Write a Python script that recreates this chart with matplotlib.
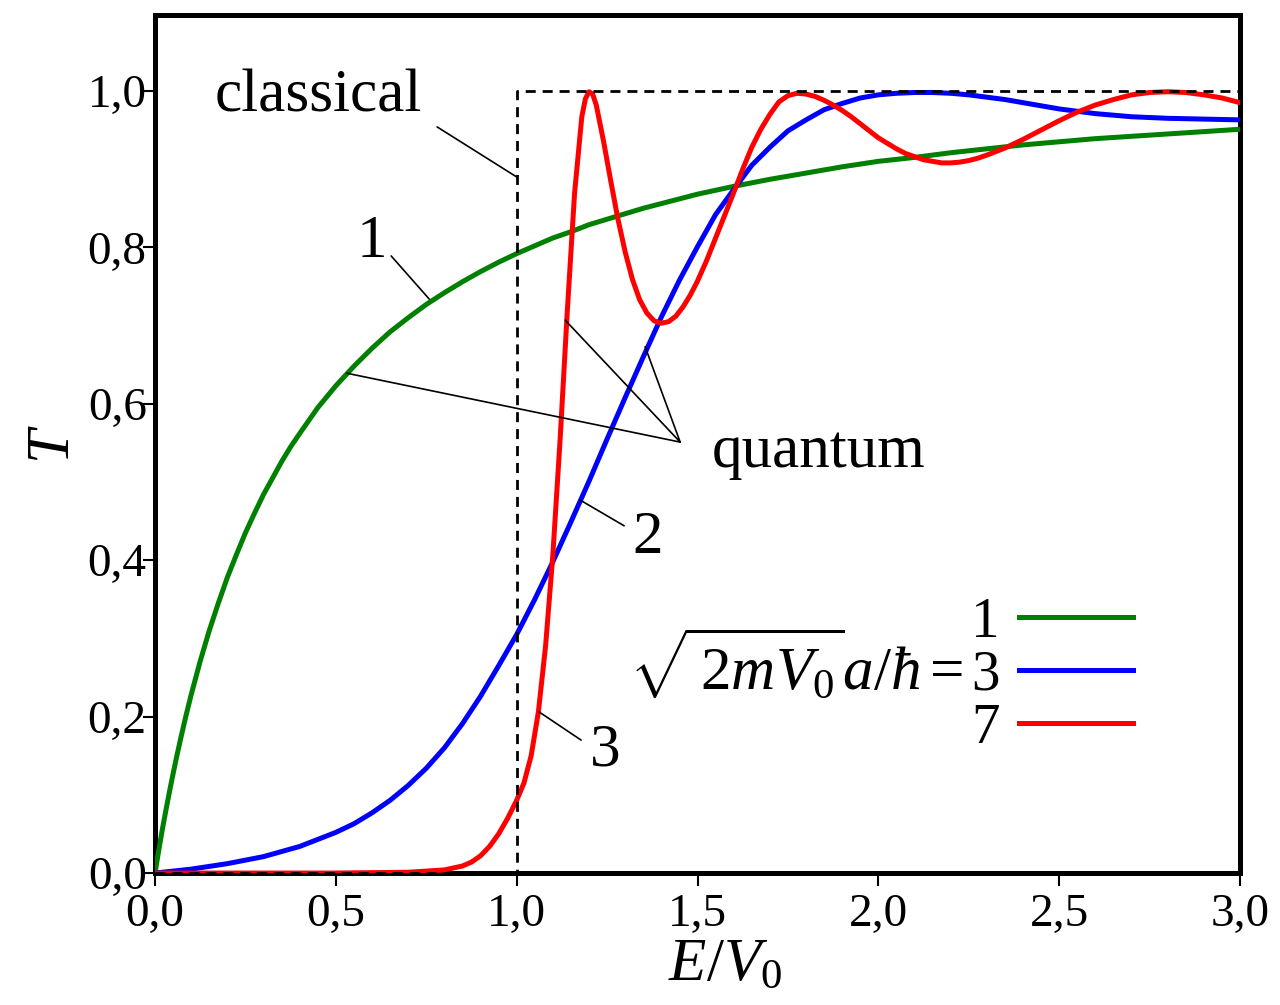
import matplotlib
matplotlib.use("Agg")
import matplotlib.pyplot as plt

plt.rcParams['font.family'] = ['Liberation Serif', 'DejaVu Serif']
plt.rcParams['mathtext.fontset'] = 'custom'
plt.rcParams['mathtext.rm'] = 'Liberation Serif'
plt.rcParams['mathtext.it'] = 'Liberation Serif:italic'

# transmission T vs E/V0
green_E = [0, 0.01, 0.02, 0.03, 0.04, 0.05, 0.06, 0.07, 0.085, 0.1, 0.125, 0.15, 0.175,
           0.2, 0.225, 0.25, 0.275, 0.3, 0.325, 0.35, 0.375, 0.4, 0.45, 0.5, 0.55, 0.6,
           0.65, 0.7, 0.75, 0.8, 0.85, 0.9, 0.95, 1.0, 1.05, 1.1, 1.15, 1.2, 1.25, 1.3,
           1.35, 1.4, 1.45, 1.5, 1.6, 1.7, 1.8, 1.9, 2.0, 2.1, 2.2, 2.4, 2.6, 2.8, 3.0]
green_T = [0, 0.028, 0.055, 0.080, 0.104, 0.127, 0.149, 0.170, 0.200, 0.228, 0.271, 0.310,
           0.345, 0.378, 0.407, 0.435, 0.460, 0.484, 0.505, 0.526, 0.545, 0.562, 0.595,
           0.623, 0.648, 0.671, 0.692, 0.710, 0.727, 0.742, 0.756, 0.769, 0.781, 0.792,
           0.802, 0.812, 0.820, 0.829, 0.836, 0.843, 0.850, 0.856, 0.862, 0.868, 0.878,
           0.887, 0.895, 0.903, 0.910, 0.915, 0.921, 0.931, 0.939, 0.945, 0.951]

blue_E = [0, 0.1, 0.2, 0.3, 0.4, 0.5, 0.55, 0.6, 0.65, 0.7, 0.75, 0.8, 0.85, 0.9, 0.95,
          1.0, 1.05, 1.1, 1.15, 1.2, 1.25, 1.3, 1.35, 1.4, 1.45, 1.5, 1.55, 1.6, 1.65,
          1.7, 1.75, 1.8, 1.85, 1.9, 1.95, 2.0, 2.05, 2.1, 2.15, 2.2, 2.25, 2.3, 2.35,
          2.4, 2.45, 2.5, 2.55, 2.6, 2.7, 2.8, 2.9, 3.0]
blue_T = [0, 0.005, 0.012, 0.021, 0.034, 0.052, 0.063, 0.077, 0.093, 0.112, 0.134, 0.160,
          0.191, 0.226, 0.265, 0.305, 0.350, 0.398, 0.449, 0.501, 0.555, 0.608, 0.660,
          0.711, 0.758, 0.801, 0.842, 0.874, 0.905, 0.928, 0.949, 0.963, 0.976, 0.984,
          0.991, 0.995, 0.997, 0.998, 0.998, 0.997, 0.995, 0.992, 0.989, 0.985, 0.981,
          0.977, 0.974, 0.971, 0.967, 0.965, 0.964, 0.963]

red_E = [0, 0.5, 0.7, 0.8, 0.85, 0.875, 0.9, 0.925, 0.95, 0.975, 1.0, 1.02, 1.04, 1.06,
         1.08, 1.10, 1.12, 1.14, 1.16, 1.18, 1.19, 1.20, 1.21, 1.22, 1.24, 1.26, 1.28,
         1.30, 1.32, 1.34, 1.36, 1.38, 1.40, 1.42, 1.44, 1.46, 1.48, 1.50, 1.525, 1.55,
         1.575, 1.60, 1.625, 1.65, 1.675, 1.70, 1.725, 1.75, 1.775, 1.80, 1.825, 1.85,
         1.875, 1.90, 1.925, 1.95, 1.975, 2.0, 2.025, 2.05, 2.075, 2.10, 2.125, 2.15,
         2.175, 2.20, 2.225, 2.25, 2.275, 2.30, 2.35, 2.40, 2.45, 2.50, 2.55, 2.60, 2.65,
         2.70, 2.75, 2.80, 2.85, 2.90, 2.95, 3.0]
red_T = [0, 0, 0.001, 0.004, 0.009, 0.014, 0.022, 0.034, 0.050, 0.070, 0.093, 0.115, 0.150,
         0.206, 0.291, 0.407, 0.554, 0.719, 0.869, 0.967, 0.990, 0.999, 0.996, 0.982,
         0.936, 0.885, 0.836, 0.794, 0.759, 0.733, 0.716, 0.706, 0.703, 0.705, 0.712,
         0.724, 0.739, 0.757, 0.783, 0.812, 0.841, 0.870, 0.900, 0.928, 0.951, 0.970,
         0.986, 0.994, 0.997, 0.996, 0.993, 0.988, 0.982, 0.975, 0.967, 0.958, 0.949,
         0.940, 0.933, 0.926, 0.920, 0.916, 0.912, 0.910, 0.908, 0.908, 0.909, 0.911,
         0.914, 0.918, 0.927, 0.938, 0.950, 0.962, 0.973, 0.982, 0.989, 0.995, 0.998,
         0.999, 0.998, 0.995, 0.991, 0.985]

classical_E = [0, 1, 1, 3]
classical_T = [0, 0, 1, 1]

params = ['1', '3', '7']
xticks = [0, 0.5, 1.0, 1.5, 2.0, 2.5, 3.0]
yticks = [0, 0.2, 0.4, 0.6, 0.8, 1.0]

fig = plt.figure(figsize=(12.8, 10.05), dpi=100)
ax = fig.add_axes([0.1211, 0.1313, 0.8477, 0.8537])

lw = 3.6
l1, = ax.plot(green_E, green_T, color='#008000', lw=lw, label=params[0], zorder=3)
l3, = ax.plot(blue_E, blue_T, color='#0000ff', lw=lw, label=params[1], zorder=3)
l7, = ax.plot(red_E, red_T, color='#ff0000', lw=lw, label=params[2], zorder=3)
ax.plot(classical_E, classical_T, color='black', lw=2, dashes=(3.6, 2.5), zorder=4)

ax.set_xlim(0, 3)
ax.set_ylim(0, 1.097)
ax.set_xticks(xticks)
ax.set_xticklabels([f"{v:.1f}".replace('.', ',') for v in xticks])
ax.set_yticks(yticks)
ax.set_yticklabels([f"{v:.1f}".replace('.', ',') for v in yticks])
ax.tick_params(axis='both', labelsize=34, width=1.5, length=9)
ax.tick_params(axis='y', pad=-3)
ax.tick_params(axis='x', pad=6)
for s in ax.spines.values():
    s.set_linewidth(3.6)

ax.set_xlabel(r'$E/V_0$', fontsize=44)
ax.xaxis.set_label_coords(0.525, -0.075)
ax.set_ylabel(r'$T$', fontsize=44, labelpad=4)

fs = 44
thin = dict(arrowstyle='-', color='black', lw=1.2, shrinkA=0, shrinkB=0)
ax.text(0.451, 0.974, 'classical', fontsize=fs, ha='center', va='baseline')
ax.annotate('', xy=(1.0, 0.890), xytext=(0.780, 0.954), arrowprops=thin)
ax.text(0.600, 0.788, '1', fontsize=fs, ha='center', va='baseline')
ax.annotate('', xy=(0.758, 0.734), xytext=(0.653, 0.789), arrowprops=thin)
ax.text(1.540, 0.519, 'quantum', fontsize=fs, ha='left', va='baseline')
for xe, yt in [(0.531, 0.639), (1.134, 0.707), (1.355, 0.673)]:
    ax.annotate('', xy=(xe, yt), xytext=(1.452, 0.551), arrowprops=thin)
ax.text(1.363, 0.409, '2', fontsize=fs, ha='center', va='baseline')
ax.annotate('', xy=(1.175, 0.477), xytext=(1.297, 0.444), arrowprops=thin)
ax.text(1.244, 0.138, '3', fontsize=fs, ha='center', va='baseline')
ax.annotate('', xy=(1.062, 0.206), xytext=(1.178, 0.170), arrowprops=thin)

ax.text(2.235, 0.234, r'$\sqrt{\,2mV_0}a/\hbar=$', fontsize=fs, ha='right', va='baseline')
ax.legend(handles=[l1, l3, l7], loc='upper left', bbox_to_anchor=(0.752, 0.322),
          frameon=False, markerfirst=False, fontsize=41, handlelength=2.0,
          handletextpad=0.35, labelspacing=0.02, borderpad=0, borderaxespad=0)

fig.savefig('out.png', dpi=100)
